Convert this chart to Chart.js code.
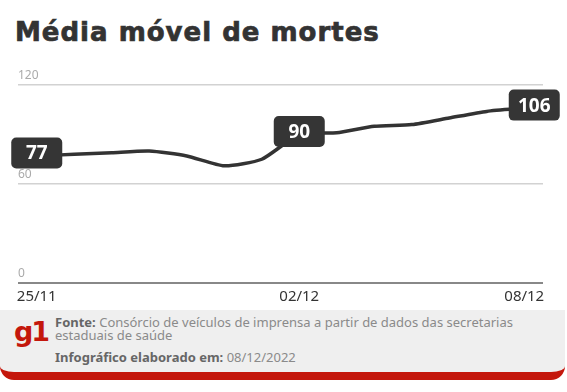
<!DOCTYPE html>
<html lang="pt-BR">
<head>
<meta charset="utf-8">
<script src="https://cdn.jsdelivr.net/npm/chart.js@4"></script>
<style>
  body { margin: 0; background: #fff; width: 567px; height: 392px; overflow: hidden; position: relative; font-family: "Noto Sans", sans-serif; }
  h1 { position: absolute; left: 15px; top: 17px; margin: 0; font-family: "DejaVu Sans", sans-serif; font-weight: bold; font-size: 26px; color: #333; letter-spacing: 1px; -webkit-text-stroke: 0.7px #333; }
  #wrap { position: absolute; left: 0; top: 60px; width: 567px; height: 262px; }
  .footer { position: absolute; left: 0; top: 310px; width: 565px; height: 62px; background: #efefef; border-bottom: 8px solid #c4170c; border-radius: 0 0 14px 14px; }
  .g1 { position: absolute; left: 14px; top: 6px; font-family: "DejaVu Sans", sans-serif; font-weight: bold; font-size: 27px; color: #c4170c; letter-spacing: -2px; }
  .src { position: absolute; left: 55px; top: 6px; font-size: 13px; line-height: 13px; color: #8a8a8a; }
  .src b { color: #666; }
  .date { position: absolute; left: 55px; top: 38px; font-size: 13px; color: #8a8a8a; }
  .date b { color: #666; }
</style>
</head>
<body>
<h1>Média móvel de mortes</h1>
<div id="wrap"><canvas id="chart"></canvas></div>
<div class="footer">
  <div class="g1">g1</div>
  <div class="src"><b>Fonte:</b> Consórcio de veículos de imprensa a partir de dados das secretarias<br>estaduais de saúde</div>
  <div class="date"><b>Infográfico elaborado em:</b> 08/12/2022</div>
</div>
<script>
// dados
const dias = ['25/11', '26/11', '27/11', '28/11', '29/11', '30/11', '01/12',
              '02/12', '03/12', '04/12', '05/12', '06/12', '07/12', '08/12'];
const mortes = [77, 78, 79, 80, 77, 71, 75, 90, 91, 95, 96, 100, 104, 106];
const diasVisiveis = ['25/11', '02/12', '08/12'];
const yTicks = [0, 60, 120];
const destaques = [0, 7, 13];

// caixinhas com os valores
const caixas = {
  id: 'caixas',
  afterDatasetsDraw(chart) {
    const c = chart.ctx;
    const meta = chart.getDatasetMeta(0);
    destaques.forEach(i => {
      const p = meta.data[i];
      const w = 51, h = 31;
      let cx = p.x;
      if (i === dias.length - 1) cx += 10;
      c.save();
      c.fillStyle = '#353535';
      c.beginPath();
      c.roundRect(cx - w / 2, p.y - h / 2 - 3, w, h, 5);
      c.fill();
      c.fillStyle = '#fff';
      c.font = 'bold 19px "Noto Sans"';
      c.textAlign = 'center';
      c.textBaseline = 'middle';
      c.fillText(mortes[i], cx, p.y - 2);
      c.restore();
    });
  }
};

new Chart(document.getElementById('chart'), {
  type: 'line',
  data: {
    labels: dias,
    datasets: [{
      data: mortes,
      borderColor: '#333',
      borderWidth: 3.5,
      pointRadius: 0,
      tension: 0.2
    }]
  },
  options: {
    responsive: true,
    maintainAspectRatio: false,
    animation: false,
    layout: { padding: { left: 18, right: 24, top: 25, bottom: 11 } },
    plugins: { legend: { display: false }, tooltip: { enabled: false } },
    scales: {
      x: {
        offset: true,
        grid: { display: false, drawTicks: false },
        border: { display: false },
        ticks: {
          autoSkip: false,
          maxRotation: 0,
          padding: 5,
          color: '#333',
          font: { family: 'Noto Sans', size: 15 },
          callback: (v, i) => diasVisiveis.includes(dias[i]) ? dias[i] : ''
        }
      },
      y: {
        min: 0,
        max: 120,
        afterBuildTicks: axis => { axis.ticks = yTicks.map(v => ({ value: v })); },
        grid: {
          drawTicks: false,
          color: ctx => ctx.tick.value === 0 ? '#888' : '#d2d2d2',
          lineWidth: ctx => ctx.tick.value === 0 ? 2 : 1.5
        },
        border: { display: false },
        ticks: {
          mirror: true,
          padding: 0,
          labelOffset: -9,
          color: '#aaa',
          font: { family: 'Noto Sans', size: 12 }
        }
      }
    }
  },
  plugins: [caixas]
});
</script>
</body>
</html>
